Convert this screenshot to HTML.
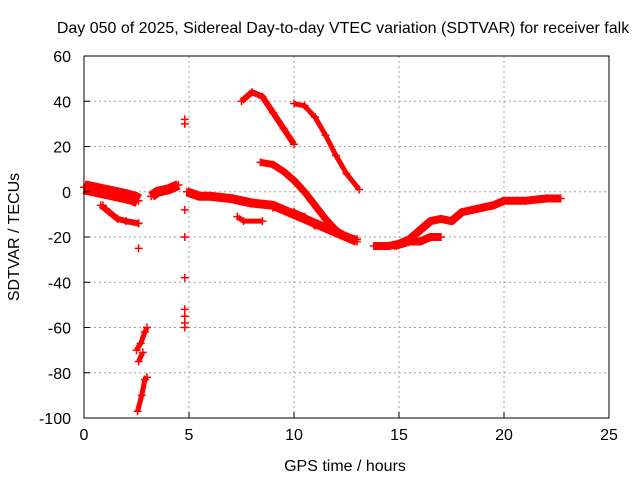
<!DOCTYPE html>
<html><head><meta charset="utf-8"><style>
body{margin:0;background:#fff}
svg text{font-family:"Liberation Sans",sans-serif;font-size:16px;fill:#000}
</style></head><body>
<svg id="chart" width="640" height="480">
<text x="343" y="33" text-anchor="middle">Day 050 of 2025, Sidereal Day-to-day VTEC variation (SDTVAR) for receiver falk</text>
<g id="grid"></g><g id="series"></g><g id="axes"></g>
<text x="345" y="471" text-anchor="middle">GPS time / hours</text>
<text transform="translate(19,237) rotate(-90)" text-anchor="middle">SDTVAR / TECUs</text>
</svg>
<script>
const xTicks=[0,5,10,15,20,25];
const yTicks=[60,40,20,0,-20,-40,-60,-80,-100];
const track1=[[0,2],[0.5,1],[1,0],[1.5,-1],[2,-2],[2.4,-3],[2.6,-4]];
const track2=[[0.8,-6],[1.2,-9],[1.6,-12],[2,-13],[2.6,-14]];
const track3=[[3.2,-2],[3.5,0],[4,1],[4.5,3]];
const track4=[[4.9,0],[5.5,-2],[6,-2],[7,-3],[7.5,-4],[8,-5],[9,-6],[9.5,-8],[10,-10],[11,-14],[12,-18],[12.5,-20],[13,-22]];
const track5=[[7.3,-11],[7.6,-13],[8.5,-13]];
const track6=[[7.5,40],[8,44],[8.5,42],[9,35],[9.5,28],[10,21]];
const track7=[[10,39],[10.5,38],[11,33],[11.5,25],[12,16],[12.5,8],[13.1,1]];
const track8=[[8.4,13],[9,12],[9.5,9],[10,5],[10.5,0],[11,-6],[11.5,-12],[12,-17],[12.5,-20],[13,-21]];
const track9=[[9,-7],[10,-9],[10.5,-11],[11,-15],[11.5,-15],[12,-17]];
const track10=[[13.8,-24],[14.5,-24],[15,-23],[15.5,-21],[16,-17],[16.5,-13],[17,-12],[17.5,-13],[18,-9],[18.5,-8],[19,-7],[19.5,-6],[20,-4],[21,-4],[22,-3],[22.7,-3]];
const track11=[[14.8,-24],[15.5,-22],[16,-22],[16.5,-20],[17,-20]];
const track12=[[2.55,-97],[2.75,-90],[2.9,-83],[3.0,-82]];
const track13=[[2.5,-70],[2.7,-67],[2.9,-62],[3.0,-60]];
const track14=[[2.6,-75],[2.8,-71]];
const isolated=[[2.6,-25],[4.8,32],[4.8,30],[4.8,-8],[4.8,-20],[4.8,-38],[4.8,-52],[4.8,-55],[4.8,-58],[4.8,-60],[0.9,-6],[2.6,-14]];
const tracks=[track1,track2,track3,track4,track5,track6,track7,track8,track9,track10,track11,track12,track13,track14];
const widths=[14,6,10,9,5,6,5,7,6,8,8,5,5,5];
const L=84,R=609,T=56,B=418;
const X=v=>L+(v-0)/(25-0)*(R-L);
const Y=v=>B-(v+100)/160*(B-T);
const NS="http://www.w3.org/2000/svg";
function mk(t,a,p){const e=document.createElementNS(NS,t);for(const k in a)e.setAttribute(k,a[k]);p.appendChild(e);return e;}
const g=document.getElementById('grid'),s=document.getElementById('series'),ax=document.getElementById('axes');
xTicks.forEach(v=>{
 if(v>0&&v<25){const l=mk('line',{x1:X(v),x2:X(v),y1:T,y2:B,stroke:'#a0a0a0','stroke-dasharray':'2,3'},g);
 
 }
 const t=mk('text',{x:X(v),y:B+22,'text-anchor':'middle'},ax);t.textContent=v;
 
 
 mk('line',{x1:X(v),x2:X(v),y1:B,y2:B-6,stroke:'#000'},ax);
});
yTicks.forEach(v=>{
 if(v>-100&&v<60){const l=mk('line',{x1:L,x2:R,y1:Y(v),y2:Y(v),stroke:'#a0a0a0','stroke-dasharray':'2,3'},g);
 
 }
 const t=mk('text',{x:L-13,y:Y(v)+6,'text-anchor':'end'},ax);t.textContent=v;
 
 
 mk('line',{x1:L,x2:L+6,y1:Y(v),y2:Y(v),stroke:'#000'},ax);
});
const fr=mk('rect',{x:L,y:T,width:R-L,height:B-T,fill:'none',stroke:'#000'},ax);


function plus(x,y,n){const p=mk('path',{d:`M${X(x)-4},${Y(y)}h8M${X(x)},${Y(y)-4}v8`,stroke:'#f00','stroke-width':1.5},s);
 
 }
tracks.forEach((tr,i)=>{
 const pl=mk('polyline',{points:tr.map(p=>X(p[0])+','+Y(p[1])).join(' '),fill:'none',stroke:'#f00','stroke-width':widths[i],'stroke-linejoin':'round'},s);
 
 
 tr.forEach(p=>plus(p[0],p[1],'sdtvar-point'));
});
isolated.forEach(p=>plus(p[0],p[1],'sdtvar-outlier'));
</script>
</body></html>
